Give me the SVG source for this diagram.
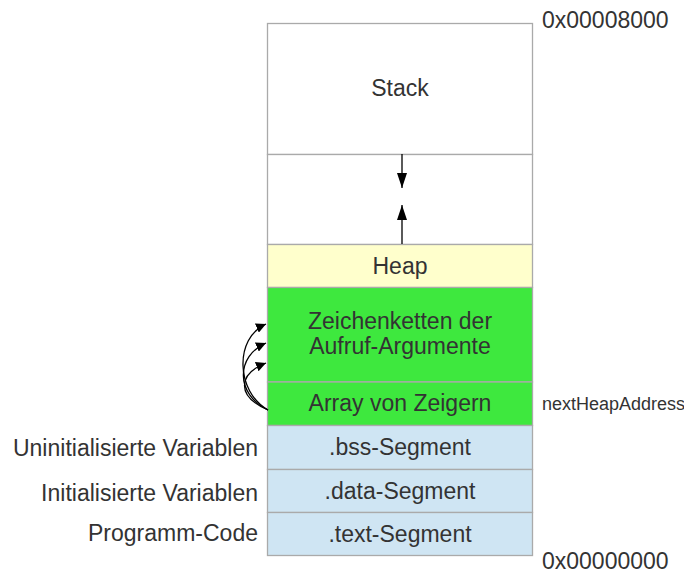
<svg xmlns="http://www.w3.org/2000/svg" width="684" height="574" viewBox="0 0 684 574">
<style>
  text { font-family: "Liberation Sans", Arial, sans-serif; font-size: 23px; fill: #333333; }
  .c { text-anchor: middle; }
  .r { text-anchor: end; }
  .s { font-size: 18px; }
  .seg { stroke: #aaaaaa; stroke-width: 1.3; }
  .conn { fill: none; stroke: #000000; stroke-width: 1.3; }
</style>
<defs>
  <marker id="ah" viewBox="0 0 10 10" refX="10" refY="5" markerWidth="10" markerHeight="10" markerUnits="userSpaceOnUse" orient="auto">
    <path d="M0,0 L10,5 L0,10 z" fill="#000000"/>
  </marker>
  <marker id="ahl" viewBox="0 0 15 10" refX="15" refY="5" markerWidth="15" markerHeight="10" markerUnits="userSpaceOnUse" orient="auto">
    <path d="M0,0 L15,5 L0,10 z" fill="#000000"/>
  </marker>
</defs>
<g id="stack"><rect class="seg" x="267.5" y="23.5" width="265" height="131" fill="#ffffff"/><text class="c" x="400" y="96">Stack</text></g>
<g id="free"><rect class="seg" x="267.5" y="154.5" width="265" height="90" fill="#ffffff"/></g>
<g id="heap"><rect class="seg" x="267.5" y="244.5" width="265" height="43" fill="#ffffcc"/><text class="c" x="400" y="274">Heap</text></g>
<g id="strings"><rect class="seg" x="267.5" y="287.5" width="265" height="94.5" fill="#3ee83e"/><text class="c" x="400" y="329">Zeichenketten der</text><text class="c" x="400" y="354">Aufruf-Argumente</text></g>
<g id="array"><rect class="seg" x="267.5" y="382" width="265" height="43.5" fill="#3ee83e"/><text class="c" x="400" y="411">Array von Zeigern</text></g>
<g id="bss"><rect class="seg" x="267.5" y="425.5" width="265" height="44" fill="#cfe5f3"/><text class="c" x="400" y="455">.bss-Segment</text></g>
<g id="data"><rect class="seg" x="267.5" y="469.5" width="265" height="43" fill="#cfe5f3"/><text class="c" x="400" y="499">.data-Segment</text></g>
<g id="text"><rect class="seg" x="267.5" y="512.5" width="265" height="43" fill="#cfe5f3"/><text class="c" x="400" y="542">.text-Segment</text></g>
<g id="labels">
  <text class="r" x="258" y="456">Uninitialisierte Variablen</text>
  <text class="r" x="258" y="501">Initialisierte Variablen</text>
  <text class="r" x="258" y="541">Programm-Code</text>
  <text x="542" y="28">0x00008000</text>
  <text x="542" y="569">0x00000000</text>
  <text class="s" x="542" y="410">nextHeapAddress</text>
</g>
<g id="connectors">
  <path class="conn" d="M402,154 L402,188" marker-end="url(#ahl)"/>
  <path class="conn" d="M402,244 L402,205" marker-end="url(#ahl)"/>
  <path class="conn" d="M268,410 C236,392 234,338 266,324" marker-end="url(#ah)"/>
  <path class="conn" d="M268,410 C235,394 236,356 266,343" marker-end="url(#ah)"/>
  <path class="conn" d="M268,410 C236,396 238,374 266,363" marker-end="url(#ah)"/>
</g>
</svg>
